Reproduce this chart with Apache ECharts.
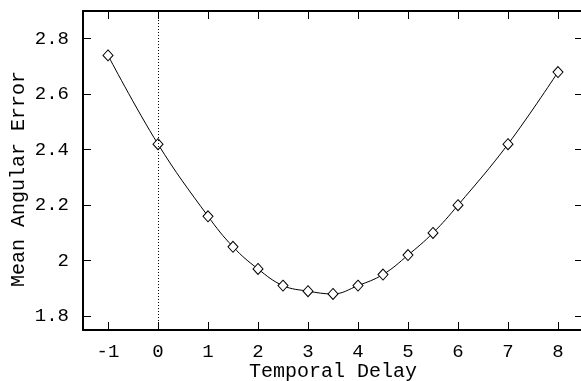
<!DOCTYPE html>
<html>
<head>
<meta charset="utf-8">
<script src="https://cdn.jsdelivr.net/npm/echarts@6/dist/echarts.min.js"></script>
<style>
  html, body { margin: 0; padding: 0; background: #fff; }
  #main { width: 581px; height: 381px; }
</style>
</head>
<body>
<div id="main"></div>
<script>
// temporal delay vs mean angular error
const delays = [-1, 0, 1, 1.5, 2, 2.5, 3, 3.5, 4, 4.5, 5, 5.5, 6, 7, 8];
const errors = [2.74, 2.42, 2.16, 2.05, 1.97, 1.91, 1.89, 1.88, 1.91, 1.95, 2.02, 2.10, 2.20, 2.42, 2.68];
const xTicks = [-1, 0, 1, 2, 3, 4, 5, 6, 7, 8];
const yTicks = [1.8, 2.0, 2.2, 2.4, 2.6, 2.8];

const font = 'Liberation Mono';
const chart = echarts.init(document.getElementById('main'), null, { renderer: 'canvas' });

const baseX = {
  type: 'value',
  min: -1.5,
  max: 8.5,
  splitLine: { show: false },
  axisLine: { show: true, onZero: false, lineStyle: { color: '#000', width: 2 } },
  axisTick: { show: true, inside: true, length: 8, customValues: xTicks, lineStyle: { color: '#000', width: 1 } }
};
const baseY = {
  type: 'value',
  min: 1.75,
  max: 2.9,
  splitLine: { show: false },
  axisLine: { show: true, onZero: false, lineStyle: { color: '#000', width: 2 } },
  axisTick: { show: true, inside: true, length: 8, customValues: yTicks, lineStyle: { color: '#000', width: 1 } }
};

let option = {
  animation: false,
  backgroundColor: '#fff',
  grid: { left: 83, top: 11, right: -2, bottom: 51, containLabel: false, outerBoundsMode: 'none' },
  xAxis: [
    Object.assign({}, baseX, {
      position: 'bottom',
      name: 'Temporal Delay',
      nameLocation: 'middle',
      nameGap: 32,
      nameMoveOverlap: false,
      nameTextStyle: { fontFamily: font, fontSize: 20, color: '#000' },
      axisLabel: { show: true, customValues: xTicks, margin: 12, fontFamily: font, fontSize: 19, color: '#000' }
    }),
    Object.assign({}, baseX, { position: 'top', axisLabel: { show: false } })
  ],
  yAxis: [
    Object.assign({}, baseY, {
      position: 'left',
      name: 'Mean Angular Error',
      nameLocation: 'middle',
      nameGap: 54,
      nameMoveOverlap: false,
      nameTextStyle: { fontFamily: font, fontSize: 20, color: '#000', padding: [0, 17, 0, 0] },
      axisLabel: { show: true, customValues: yTicks, margin: 14, fontFamily: font, fontSize: 19, color: '#000' }
    }),
    Object.assign({}, baseY, { position: 'right', axisLabel: { show: false } })
  ],
  series: [
    {
      type: 'line',
      data: delays.map((d, i) => [d, errors[i]]),
      smooth: 0.4,
      symbol: 'diamond',
      symbolSize: [10, 11],
      itemStyle: { color: '#fff', borderColor: '#000', borderWidth: 1 },
      lineStyle: { color: '#000', width: 1 },
      markLine: {
        silent: true,
        symbol: ['none', 'none'],
        label: { show: false },
        lineStyle: { color: '#000', width: 1, type: [1, 2] },
        data: [{ xAxis: 0 }]
      }
    }
  ]
};
chart.setOption(option);
</script>
</body>
</html>
